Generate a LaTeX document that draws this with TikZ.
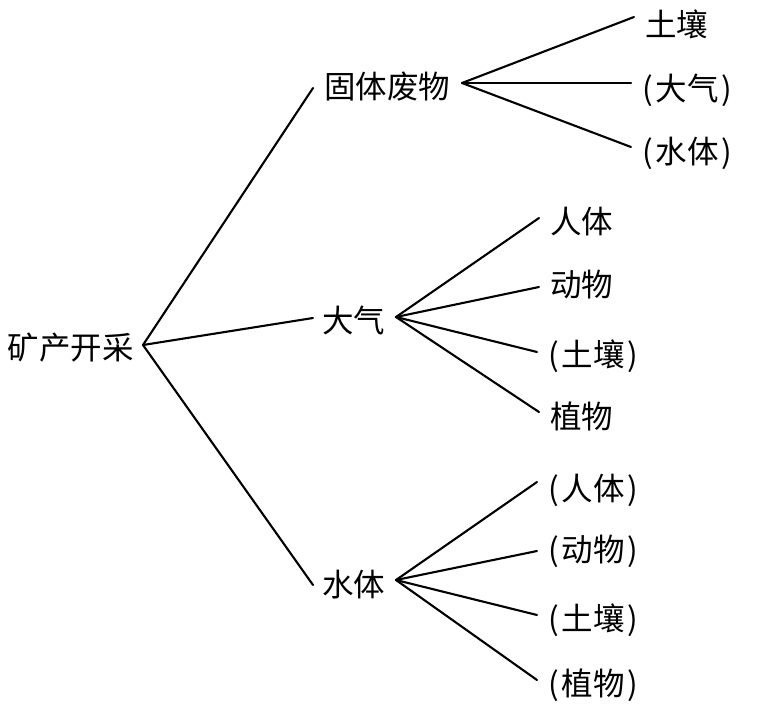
\documentclass[tikz,border=0pt]{standalone}
\usepackage{fontspec}
\newfontfamily\cjk{Noto Sans CJK SC}
\newcommand{\pl}{(\kern3pt}
\newcommand{\pr}{\kern3pt)}
\begin{document}
\begin{tikzpicture}[x=1pt,y=-1pt,
  lbl/.style={font=\cjk\fontsize{31.5}{31.5}\selectfont,inner sep=0pt,outer sep=0pt},
  leaf/.style={lbl,anchor=west,inner xsep=11pt},
  branch/.style={line width=2.1pt,line cap=round}]
\useasboundingbox (0,0) rectangle (760,712);
% root and middle level
\node[lbl] (root) at (71,348) {矿产开采};
\node[lbl,inner xsep=11pt] (gt) at (387,87) {固体废物};
\node[lbl,inner xsep=9pt] (dq) at (353.5,320) {大气};
\node[lbl,inner xsep=9pt] (st) at (353.5,585) {水体};
% leaves
\node[leaf] (g1) at (634,24) {土壤};
\node[leaf] (g2) at (631,90) {\pl 大气\pr};
\node[leaf] (g3) at (631,153) {\pl 水体\pr};
\node[leaf] (d1) at (539,222) {人体};
\node[leaf] (d2) at (539,285) {动物};
\node[leaf] (d3) at (537,356) {\pl 土壤\pr};
\node[leaf] (d4) at (539,416) {植物};
\node[leaf] (s1) at (537,490) {\pl 人体\pr};
\node[leaf] (s2) at (537,551) {\pl 动物\pr};
\node[leaf] (s3) at (537,620) {\pl 土壤\pr};
\node[leaf] (s4) at (537,685) {\pl 植物\pr};
% junctions
\coordinate (j0) at ([xshift=9pt,yshift=3pt]root.east);
\coordinate (j1) at ([xshift=1pt,yshift=4pt]gt.east);
\coordinate (j2) at ([xshift=2pt,yshift=3pt]dq.east);
\coordinate (j3) at ([xshift=2pt,yshift=5pt]st.east);
% connectors
\draw[branch] (j0) -- ([yshift=-1pt]gt.west);
\draw[branch] (j0) -- ([yshift=2pt]dq.west);
\draw[branch] (j0) -- (st.west);
\draw[branch] (j1) -- ([yshift=7pt]g1.west);
\draw[branch] (j1) -- ([yshift=7pt]g2.west);
\draw[branch] (j1) -- ([yshift=6pt]g3.west);
\draw[branch] (j2) -- ([yshift=4pt]d1.west);
\draw[branch] (j2) -- ([yshift=-2pt]d2.west);
\draw[branch] (j2) -- ([yshift=4pt]d3.west);
\draw[branch] (j2) -- ([yshift=4pt]d4.west);
\draw[branch] (j3) -- ([yshift=8pt]s1.west);
\draw[branch] (j3) -- (s2.west);
\draw[branch] (j3) -- ([yshift=5pt]s3.west);
\draw[branch] (j3) -- ([yshift=5pt]s4.west);
\end{tikzpicture}
\end{document}
